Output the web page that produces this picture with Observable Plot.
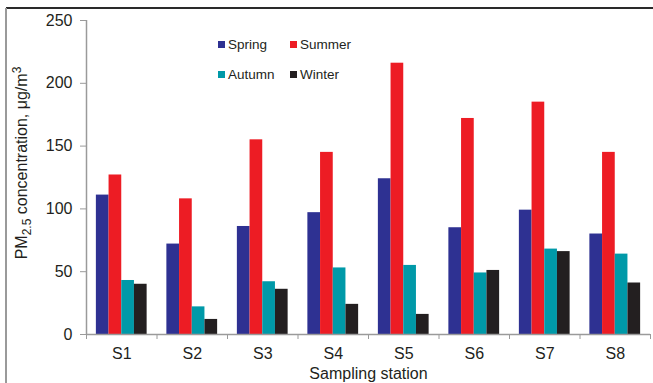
<!DOCTYPE html>
<html>
<head>
<meta charset="utf-8">
<script src="https://cdn.jsdelivr.net/npm/d3@7"></script>
<script src="https://cdn.jsdelivr.net/npm/@observablehq/plot@0.6"></script>
<style>
  html, body { margin: 0; padding: 0; background: #fff; }
  #wrap { position: relative; width: 653px; height: 383px; font-family: "Liberation Sans", Arial, sans-serif; color: #231f20; overflow: hidden; }
  #wrap svg { position: absolute; left: 0; top: 0; }
  .bt { position: absolute; left: 6px; top: 7px; width: 647px; height: 2px; background: #2a2a2a; }
  .bl { position: absolute; left: 5px; top: 8px; width: 2px; height: 375px; background: #9a9a9a; }
  #legend { position: absolute; left: 218px; top: 36px; display: grid; grid-template-columns: 72px auto; row-gap: 13px; font-size: 13.5px; line-height: 17px; }
  .item { display: flex; align-items: center; white-space: nowrap; }
  .sw { width: 7px; height: 7px; margin-right: 3px; }
</style>
</head>
<body>
<div id="wrap"></div>
<script>
const stations = ["S1", "S2", "S3", "S4", "S5", "S6", "S7", "S8"];
const seasons = ["Spring", "Summer", "Autumn", "Winter"];
const spring = [111, 72, 86, 97, 124, 85, 99, 80];
const summer = [127, 108, 155, 145, 216, 172, 185, 145];
const autumn = [43, 22, 42, 53, 55, 49, 68, 64];
const winter = [40, 12, 36, 24, 16, 51, 66, 41];
const yTicks = [0, 50, 100, 150, 200, 250];
const colors = ["#2e3192", "#ed1c24", "#0099a8", "#231f20"];

const series = [spring, summer, autumn, winter];
const data = [];
stations.forEach((s, i) => {
  seasons.forEach((season, k) => {
    data.push({station: s, i, season, k, value: series[k][i]});
  });
});

const groupPad = 0.14, barW = 0.18;
const bounds = d3.range(0, stations.length + 1);
const centers = stations.map((s, i) => i + 0.5);

const plot = Plot.plot({
  width: 653,
  height: 383,
  marginLeft: 86,
  marginRight: 3,
  marginTop: 20,
  marginBottom: 49,
  style: {fontFamily: "Liberation Sans, Arial, sans-serif", fontSize: "16px", color: "#231f20", background: "#fff"},
  x: {type: "linear", domain: [0, stations.length]},
  y: {domain: [0, 250]},
  color: {domain: seasons, range: colors},
  marks: [
    Plot.rect(data, {
      x1: d => d.i + groupPad + d.k * barW,
      x2: d => d.i + groupPad + (d.k + 1) * barW,
      y1: d => 0,
      y2: d => d.value,
      fill: d => d.season
    }),
    Plot.ruleX([0], {y1: 0, y2: 250, stroke: "#9a9a9a", strokeWidth: 1.5}),
    Plot.ruleY([0], {stroke: "#9a9a9a", strokeWidth: 1.5}),
    Plot.axisY({ticks: yTicks, tickSize: 6, tickPadding: 8, stroke: "#9a9a9a", fill: "#231f20", label: null, fontSize: 16}),
    Plot.axisX({ticks: bounds, tickSize: 5, tickFormat: () => "", stroke: "#9a9a9a", label: null}),
    Plot.axisX({ticks: centers, tickSize: 0, tickPadding: 13, tickFormat: v => stations[Math.floor(v)], fill: "#231f20", fontSize: 16, label: "Sampling station", labelAnchor: "center", labelArrow: "none", labelOffset: 44})
  ]
});

const wrap = document.getElementById("wrap");
wrap.appendChild(plot);

// y-axis title with subscript / superscript
const svg = d3.select(plot);
const t = svg.append("text")
  .attr("transform", "translate(26.5,163) rotate(-90)")
  .attr("text-anchor", "middle")
  .attr("fill", "#231f20")
  .style("font-size", "16px");
t.append("tspan").text("PM");
t.append("tspan").attr("dy", 4).style("font-size", "12px").text("2.5");
t.append("tspan").attr("dy", -4).text(" concentration, \u03bcg/m");
t.append("tspan").attr("dy", -6).style("font-size", "12px").text("3");

// border lines
const bt = document.createElement("div"); bt.className = "bt"; wrap.appendChild(bt);
const bl = document.createElement("div"); bl.className = "bl"; wrap.appendChild(bl);

// legend
const legend = document.createElement("div");
legend.id = "legend";
seasons.forEach((s, k) => {
  const it = document.createElement("div");
  it.className = "item";
  const sw = document.createElement("span");
  sw.className = "sw";
  sw.style.background = colors[k];
  const tx = document.createElement("span");
  tx.textContent = s;
  it.appendChild(sw); it.appendChild(tx);
  legend.appendChild(it);
});
wrap.appendChild(legend);
</script>
</body>
</html>
